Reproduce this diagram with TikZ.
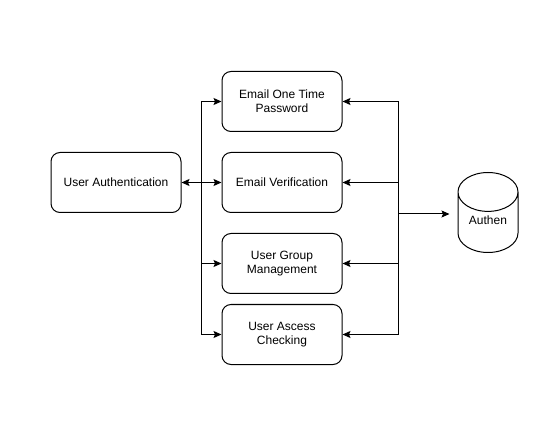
\documentclass[tikz,border=0pt]{standalone}
\usepackage{fontspec}
\setmainfont{Liberation Sans}
\usetikzlibrary{positioning}
\usetikzlibrary{arrows.meta}
\usetikzlibrary{shapes.geometric}

\begin{document}
\begin{tikzpicture}[
x=1pt,y=-1pt,
box/.style={
	% The shape:
	rectangle,rounded corners=9pt,
	% The size:
	minimum width=120pt,minimum height=60pt,
	% The border:
	draw=black,line width=1pt,
	align=center,
	font=\fontsize{12}{14}\selectfont},
store/.style={
	cylinder,shape border rotate=90,aspect=0.87,
	minimum width=60pt,minimum height=80pt,
	draw=black,line width=1pt,
	text depth=14pt,
	font=\fontsize{12}{14}\selectfont},
>={Stealth[length=8pt,width=7pt,inset=1.5pt]}, line width=1pt,
]
\useasboundingbox (0,0) rectangle (555,433);

\node (ua) [box, minimum width=130pt] at (116,182.5) {User Authentication};
\node (ev) [box, right=40pt of ua] {Email Verification};
\node (eotp) [box, above=20pt of ev] {Email One Time\\Password};
\node (ugm) [box, below=20pt of ev] {User Group\\Management};
\node (uac) [box, below=10pt of ugm] {User Ascess\\Checking};
\node (db) [store, anchor=shape center] at (488,212.5) {Authen};

\coordinate [right=20pt of ua] (lbus);
\coordinate (rbus) at (398,214);

% left side
\draw[<->] (ua) -- (ev);
\draw[->] (lbus) |- (eotp);
\draw[->] (lbus) |- (ugm);
\draw[->] (lbus) |- (uac);
% right side
\draw[->] (rbus) |- (eotp);
\draw[->] (rbus) |- (ev);
\draw[->] (rbus) |- (ugm);
\draw[->] (rbus) |- (uac);
\draw[->,shorten >=8pt] (rbus) -- (rbus -| db.west);
\end{tikzpicture}
\end{document}
